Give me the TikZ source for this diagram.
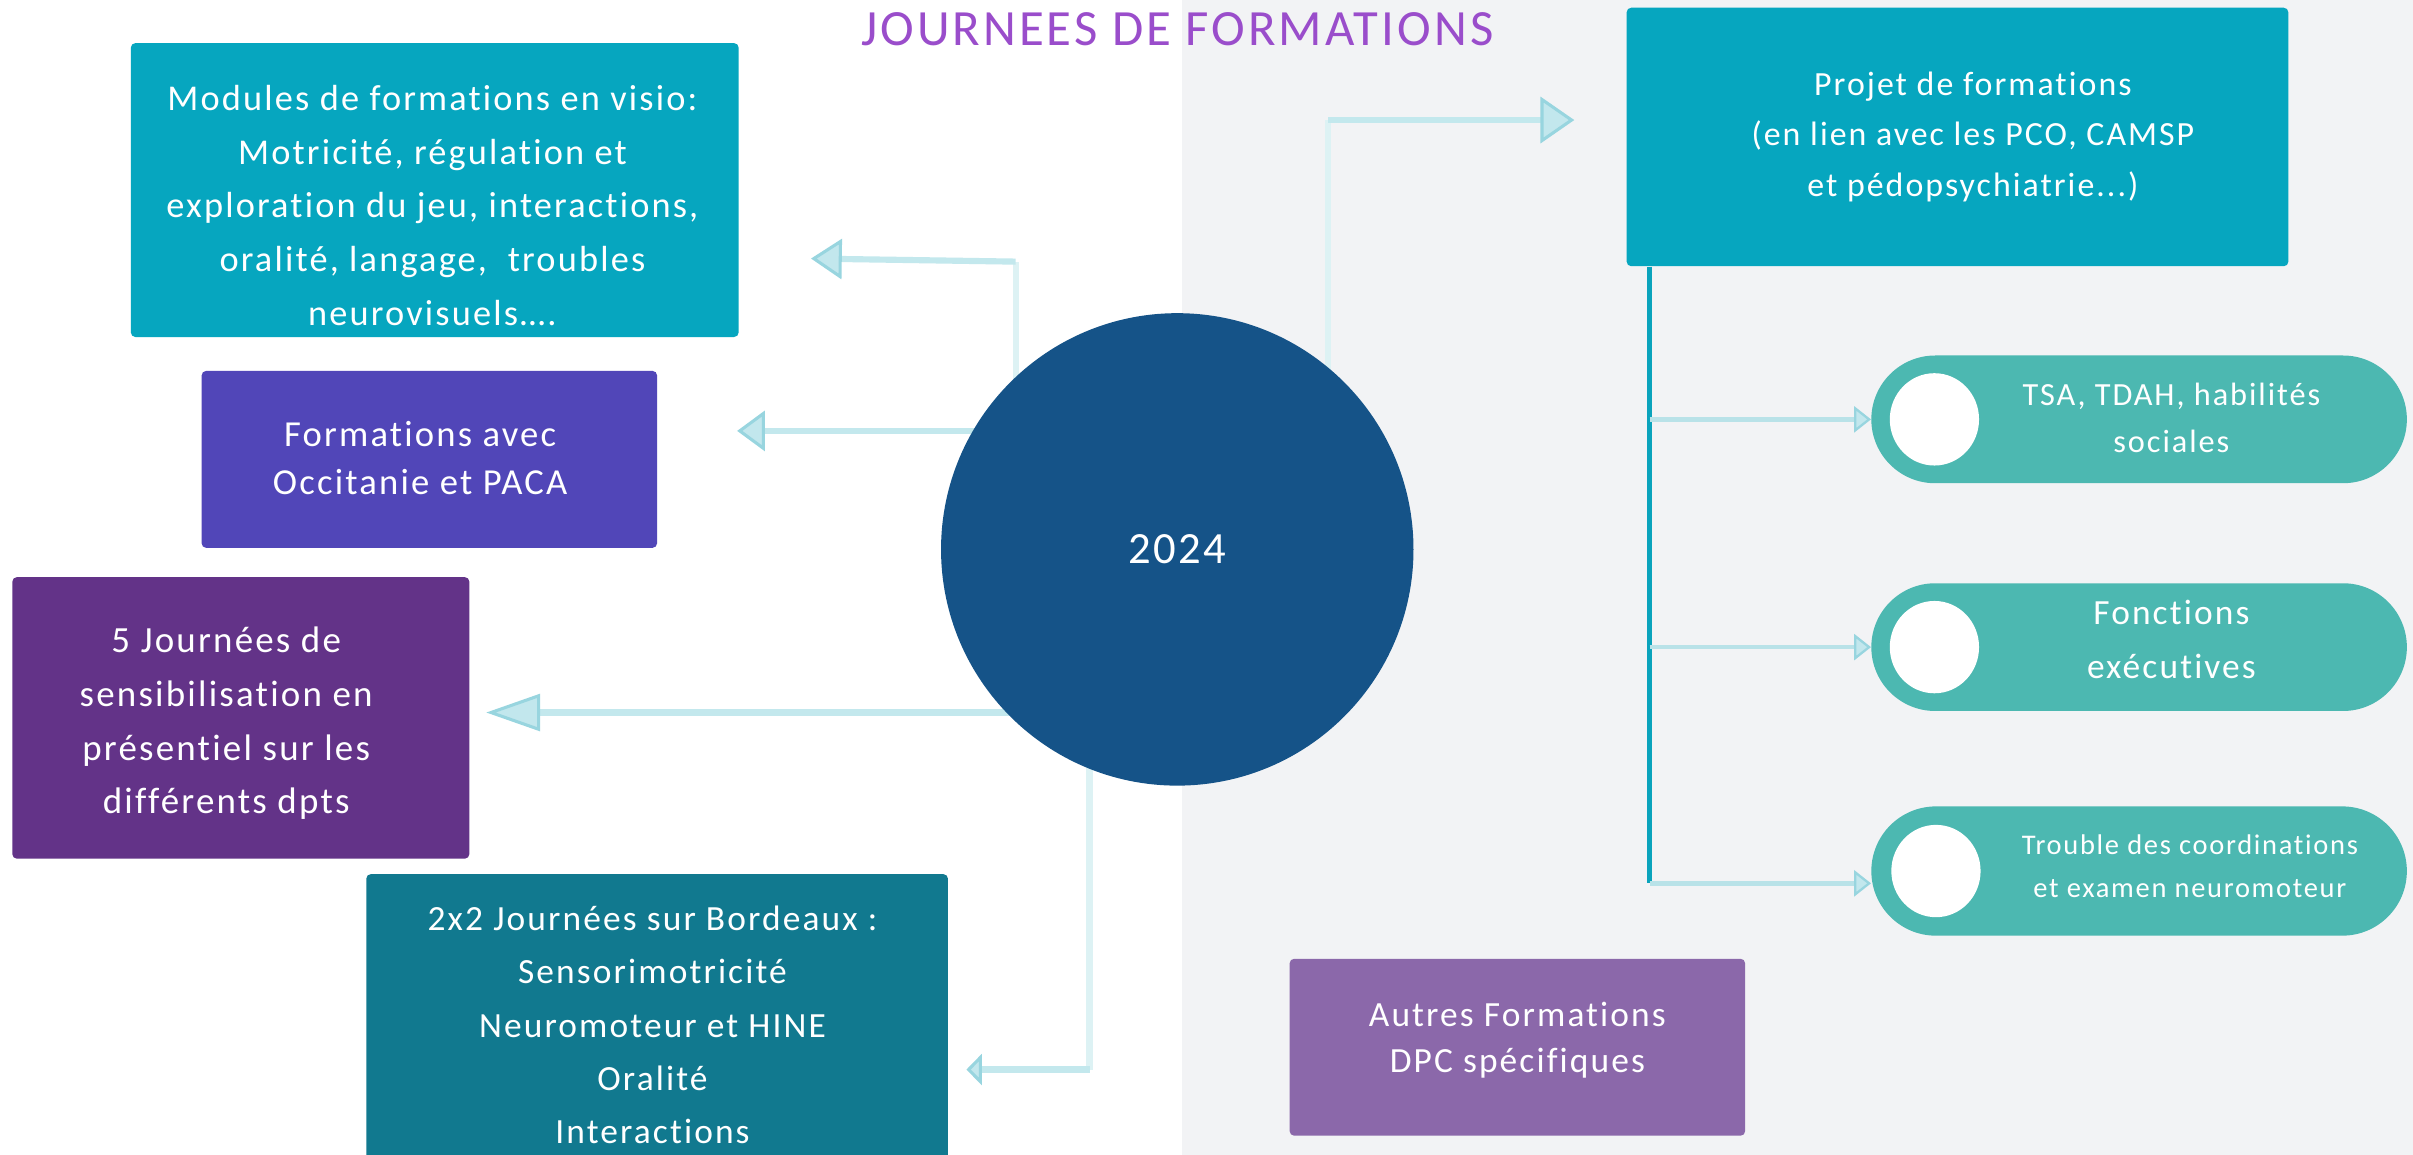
\documentclass[tikz,border=0pt]{standalone}
\usepackage{fontspec}
\setmainfont{Carlito}[LetterSpace=6,Ligatures=NoCommon]
\usetikzlibrary{arrows.meta,shapes.misc,shapes.geometric,calc}
\definecolor{bgright}{HTML}{F2F3F5}
\definecolor{titlec}{HTML}{9A4DCB}
\definecolor{cteal}{HTML}{06A6BF}
\definecolor{cviolet}{HTML}{5146B8}
\definecolor{cpurple}{HTML}{633388}
\definecolor{cdteal}{HTML}{11798F}
\definecolor{cblue}{HTML}{155388}
\definecolor{cpill}{HTML}{4CB8B1}
\definecolor{cmauve}{HTML}{8B68AA}
\definecolor{ctrunk}{HTML}{0AA3BC}
\definecolor{cline}{HTML}{C3E8ED}
\definecolor{clinev}{HTML}{DDF2F4}
\definecolor{cbranch}{HTML}{B9E2E8}
\definecolor{afill}{HTML}{C2E7ED}
\definecolor{aedge}{HTML}{98D5DF}
\begin{document}
\begin{tikzpicture}[x=1pt,y=-1pt,
  box/.style={rectangle, rounded corners=3pt, inner sep=0pt},
  txt/.style={text=white, align=center, inner sep=0pt, font=\fontsize{24}{35}\selectfont},
  pill/.style={rounded rectangle, fill=cpill, inner sep=0pt, minimum width=348pt},
  hole/.style={ellipse, fill=white, inner sep=0pt, minimum width=58pt, minimum height=60pt},
  conn/.style={draw=cline, line width=4pt},
  connv/.style={draw=clinev, line width=4pt},
  branch/.style={draw=cbranch, line width=3pt},
]
\useasboundingbox (0,0) rectangle (1568,750.5);
\fill[white] (0,0) rectangle (768,750.5);
\fill[bgright] (768,0) rectangle (1568,750.5);

% title
\node[text=titlec, inner sep=0pt, font=\fontsize{33}{40}\selectfont] (title) at (765,19) {JOURNEES DE FORMATIONS};

% free ends and bends of connectors
\coordinate (cc) at (765,357);
\coordinate (a1) at (527,168);
\coordinate (b1) at (660,170);
\coordinate (a2) at (479,280);
\coordinate (a3) at (316,463);
\coordinate (a4) at (628,695);
\coordinate (b4) at (708,695);
\coordinate (a5) at (1023,78);
\coordinate (b5) at (863,78);

% connectors from the circle (drawn first, circle covers their start)
\draw[connv] (b1 |- cc) -- (b1);
\draw[conn, -{Triangle[length=20pt,width=26pt,fill=afill,color=aedge,line width=2pt]}] (b1) -- (a1);
\draw[conn, -{Triangle[length=18pt,width=26pt,fill=afill,color=aedge,line width=2pt]}] (cc |- a2) -- (a2);
\draw[conn, -{Triangle[length=35pt,width=24pt,fill=afill,color=aedge,line width=2pt]}] (cc |- a3) -- (a3);
\draw[connv] (b4 |- cc) -- (b4);
\draw[conn, -{Triangle[length=10pt,width=20pt,fill=afill,color=aedge,line width=2pt]}] (b4) -- (a4);
\draw[connv] (b5 |- cc) -- (b5);
\draw[conn, -{Triangle[length=22pt,width=30pt,fill=afill,color=aedge,line width=2pt]}] (b5) -- (a5);

% circle
\node[circle, fill=cblue, minimum size=307pt, inner sep=0pt, text=white, font=\fontsize{29}{36}\selectfont] (c) at (cc) {2024};

% left boxes
\node[box, fill=cteal, minimum width=395pt, minimum height=191pt] (m1) at (282.5,123.5) {};
\node[txt, font=\fontsize{23.6}{35}\selectfont] (m1t) at (281,133.5) {Modules de formations en visio:\\Motricité, régulation et\\exploration du jeu, interactions,\\oralité, langage, \ troubles\\neurovisuels….};

\node[box, fill=cviolet, minimum width=296pt, minimum height=115pt] (m2) at (279,298.5) {};
\node[txt, font=\fontsize{23.8}{31}\selectfont] (m2t) at (273,297.5) {Formations avec\\Occitanie et PACA};

\node[box, fill=cpurple, minimum width=297pt, minimum height=183pt] (m3) at (156.5,466.5) {};
\node[txt] (m3t) at (147,470) {5 Journées de\\sensibilisation en\\présentiel sur les\\différents dpts};

\node[box, fill=cdteal, minimum width=378pt, minimum height=192pt] (m4) at (427,664) {};
\node[txt, font=\fontsize{23}{34.5}\selectfont] (m4t) at (424,666) {2x2 Journées sur Bordeaux :\\Sensorimotricité\\Neuromoteur et HINE\\Oralité\\Interactions};

% right side
\node[box, fill=cteal, minimum width=430pt, minimum height=168pt] (pr) at (1272,89) {};
\node[txt, font=\fontsize{22}{33}\selectfont] (prt) at (1282,89) {Projet de formations\\(en lien avec les PCO, CAMSP\\et pédopsychiatrie...)};

\node[pill, minimum height=83pt] (p1) at (1390,272.5) {};
\node[pill, minimum height=83pt] (p2) at (1390,420.5) {};
\node[pill, minimum height=84pt] (p3) at (1390,566) {};
\node[hole] (h1) at (1257,272.5) {};
\node[hole] (h2) at (1257,420.5) {};
\node[hole] (h3) at (1258,566) {};
\node[txt, font=\fontsize{21}{31}\selectfont] (p1t) at (1411,271.5) {TSA, TDAH, habilités\\sociales};
\node[txt, font=\fontsize{23}{35}\selectfont] (p2t) at (1411,415.5) {Fonctions\\exécutives};
\node[txt, font=\fontsize{18.5}{28}\selectfont] (p3t) at (1423,563) {Trouble des coordinations\\et examen neuromoteur};

\coordinate (tend) at (1072,574);
\draw[draw=ctrunk, line width=3pt] (pr.south -| tend) -- (tend);
\draw[branch, -{Triangle[length=11pt,width=17pt,fill=afill,color=aedge,line width=1.5pt]}] (tend |- p1.west) -- (p1.west);
\draw[branch, -{Triangle[length=11pt,width=17pt,fill=afill,color=aedge,line width=1.5pt]}] (tend |- p2.west) -- (p2.west);
\draw[branch, -{Triangle[length=11pt,width=17pt,fill=afill,color=aedge,line width=1.5pt]}] (tend) -- (tend -| p3.west);

\node[box, fill=cmauve, minimum width=296pt, minimum height=115pt] (ad) at (986,680.5) {};
\node[txt, font=\fontsize{23}{30}\selectfont] (adt) at (986,676) {Autres Formations\\DPC spécifiques};
\end{tikzpicture}
\end{document}
